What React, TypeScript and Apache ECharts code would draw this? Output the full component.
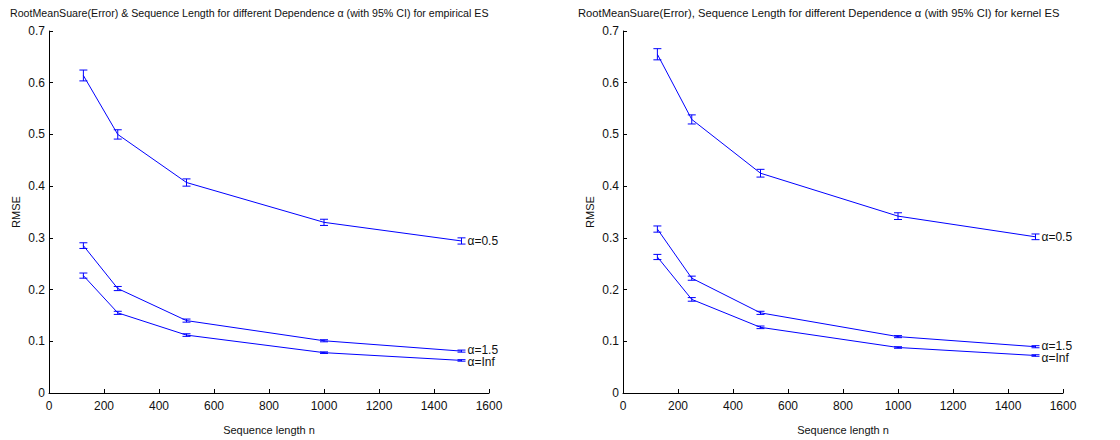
import React, { useEffect, useRef } from "react";
import * as echarts from "echarts";

const seqLen = [125, 250, 500, 1000, 1500];

// empirical ES (left)
const empRmse05 = [0.614, 0.5, 0.407, 0.330, 0.294];
const empCi05 = [0.0105, 0.009, 0.007, 0.006, 0.006];
const empRmse15 = [0.285, 0.202, 0.140, 0.101, 0.081];
const empCi15 = [0.0055, 0.004, 0.003, 0.002, 0.002];
const empRmseInf = [0.227, 0.155, 0.112, 0.078, 0.063];
const empCiInf = [0.005, 0.003, 0.0025, 0.0015, 0.0015];

// kernel ES (right)
const kerRmse05 = [0.655, 0.529, 0.425, 0.342, 0.302];
const kerCi05 = [0.0108, 0.0088, 0.0075, 0.0065, 0.0055];
const kerRmse15 = [0.317, 0.222, 0.155, 0.109, 0.0895];
const kerCi15 = [0.006, 0.004, 0.003, 0.002, 0.002];
const kerRmseInf = [0.263, 0.181, 0.127, 0.088, 0.0725];
const kerCiInf = [0.005, 0.0035, 0.0025, 0.0015, 0.0015];

const seriesLabels = ["α=0.5", "α=1.5", "α=Inf"];
const titles = [
  "RootMeanSuare(Error) & Sequence Length for different Dependence α (with 95% CI) for empirical ES",
  "RootMeanSuare(Error), Sequence Length for different Dependence α (with 95% CI) for kernel ES",
];
const xName = "Sequence length n";
const yName = "RMSE";

const BLUE = "#0000ff";
const FONT = "Liberation Sans";

function lineSeries(idx: number, vals: number[], label: string, dy: number) {
  return {
    type: "line",
    xAxisIndex: idx,
    yAxisIndex: idx,
    data: seqLen.map((x, i) => [x, vals[i]]),
    showSymbol: false,
    symbol: "none",
    lineStyle: { color: BLUE, width: 1 },
    itemStyle: { color: BLUE },
    endLabel: {
      show: true,
      formatter: label,
      color: "#111",
      fontSize: 12,
      fontFamily: FONT,
      distance: 6,
      offset: [0, dy],
    },
    z: 3,
  };
}

function errSeries(idx: number, vals: number[], ci: number[]) {
  return {
    type: "custom",
    xAxisIndex: idx,
    yAxisIndex: idx,
    data: seqLen.map((x, i) => [x, vals[i] - ci[i], vals[i] + ci[i]]),
    encode: { x: 0, y: [1, 2] },
    renderItem: (params: any, api: any) => {
      const x = api.value(0);
      const lo = api.coord([x, api.value(1)]);
      const hi = api.coord([x, api.value(2)]);
      const w = 4;
      const st = { stroke: BLUE, lineWidth: 1 };
      return {
        type: "group",
        children: [
          { type: "line", shape: { x1: lo[0], y1: lo[1], x2: hi[0], y2: hi[1] }, style: st },
          { type: "line", shape: { x1: lo[0] - w, y1: lo[1], x2: lo[0] + w, y2: lo[1] }, style: st },
          { type: "line", shape: { x1: hi[0] - w, y1: hi[1], x2: hi[0] + w, y2: hi[1] }, style: st },
        ],
      };
    },
    z: 4,
  };
}

const axisText = { color: "#111", fontSize: 12, fontFamily: FONT };
const nameText = { color: "#111", fontSize: 11, fontFamily: FONT };

function xAxis(idx: number) {
  return {
    type: "value",
    gridIndex: idx,
    min: 0,
    max: 1600,
    interval: 200,
    name: xName,
    nameLocation: "middle",
    nameGap: 31,
    nameTextStyle: nameText,
    axisLine: { show: true, lineStyle: { color: "#000", width: 1 } },
    axisTick: { show: true, inside: true, length: 4, lineStyle: { color: "#000" } },
    axisLabel: { ...axisText, margin: 7, formatter: (v: number) => String(v) },
    splitLine: { show: false },
  };
}

function yAxis(idx: number) {
  return {
    type: "value",
    gridIndex: idx,
    min: 0,
    max: 0.7,
    interval: 0.1,
    name: yName,
    nameLocation: "middle",
    nameGap: 28,
    nameTextStyle: nameText,
    axisLine: { show: true, lineStyle: { color: "#000", width: 1 } },
    axisTick: { show: true, inside: true, length: 4, lineStyle: { color: "#000" } },
    axisLabel: {
      ...axisText,
      margin: 4,
      formatter: (v: number) => (v === 0 ? "0" : v.toFixed(1)),
    },
    splitLine: { show: false },
  };
}

export default function App() {
  const ref = useRef<HTMLDivElement>(null);
  useEffect(() => {
    if (!ref.current) return;
    const chart = echarts.init(ref.current, undefined, { renderer: "svg" });
    const titleStyle = { color: "#111", fontFamily: FONT, fontWeight: "normal" };
    chart.setOption({
      animation: false,
      backgroundColor: "#fff",
      textStyle: { fontFamily: FONT },
      title: [
        { text: titles[0], left: 10, top: 7, textStyle: { ...titleStyle, fontSize: 10.65 }, padding: 0 },
        { text: titles[1], left: 578, top: 7, textStyle: { ...titleStyle, fontSize: 11.2 }, padding: 0 },
      ],
      grid: [
        { left: 49, right: 631, top: 31, bottom: 41, containLabel: false },
        { left: 623, right: 57, top: 31, bottom: 41, containLabel: false },
      ],
      xAxis: [xAxis(0), xAxis(1)],
      yAxis: [yAxis(0), yAxis(1)],
      series: [
        lineSeries(0, empRmse05, seriesLabels[0], 0),
        lineSeries(0, empRmse15, seriesLabels[1], -1),
        lineSeries(0, empRmseInf, seriesLabels[2], 2),
        errSeries(0, empRmse05, empCi05),
        errSeries(0, empRmse15, empCi15),
        errSeries(0, empRmseInf, empCiInf),
        lineSeries(1, kerRmse05, seriesLabels[0], 0),
        lineSeries(1, kerRmse15, seriesLabels[1], -1),
        lineSeries(1, kerRmseInf, seriesLabels[2], 2),
        errSeries(1, kerRmse05, kerCi05),
        errSeries(1, kerRmse15, kerCi15),
        errSeries(1, kerRmseInf, kerCiInf),
      ],
    });
    return () => chart.dispose();
  }, []);
  return (
    <div
      ref={ref}
      style={{ position: "fixed", left: 0, top: 0, width: 1120, height: 440 }}
    />
  );
}
